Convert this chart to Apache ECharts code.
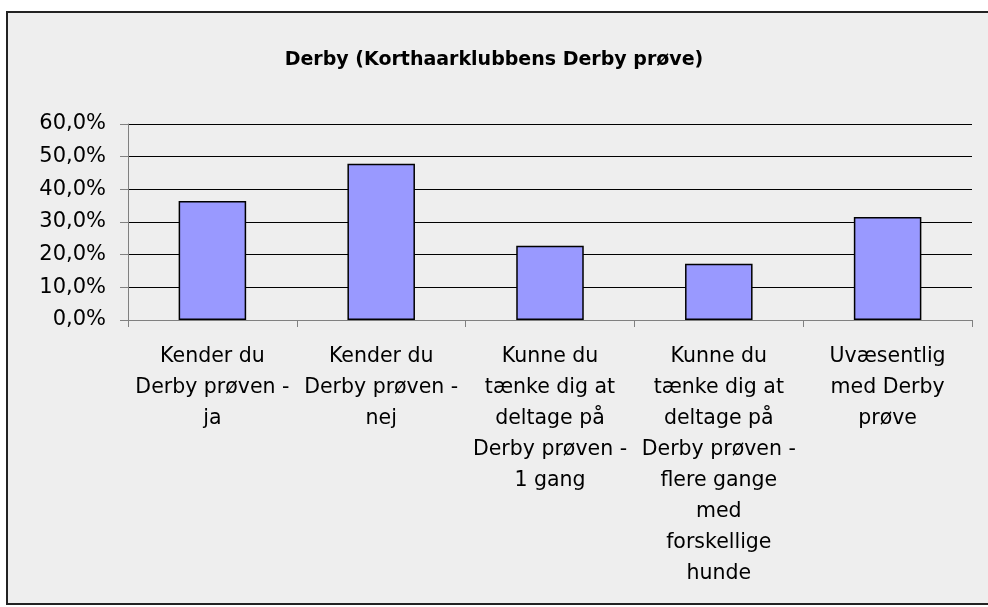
<!DOCTYPE html>
<html>
<head>
<meta charset="utf-8">
<script src="https://cdn.jsdelivr.net/npm/echarts@6/dist/echarts.min.js"></script>
<style>
  html, body { margin: 0; padding: 0; background: #ffffff; }
  #chart { width: 988px; height: 607px; }
</style>
</head>
<body>
<div id="chart"></div>
<script>
// categories (line breaks as in the original chart)
const categories = [
  "Kender du\nDerby prøven -\nja",
  "Kender du\nDerby prøven -\nnej",
  "Kunne du\ntænke dig at\ndeltage på\nDerby prøven -\n1 gang",
  "Kunne du\ntænke dig at\ndeltage på\nDerby prøven -\nflere gange\nmed\nforskellige\nhunde",
  "Uvæsentlig\nmed Derby\nprøve"
];
// percent values
const values = [36.4, 47.8, 22.7, 17.2, 31.5];
const titleText = "Derby (Korthaarklubbens Derby prøve)";

const font = "'DejaVu Sans', Arial, sans-serif";

const chart = echarts.init(document.getElementById('chart'));

const option = {
  backgroundColor: '#ffffff',
  animation: false,
  graphic: [{
    type: 'rect',
    z: -10,
    shape: { x: 7, y: 12, width: 990, height: 592 },
    style: { fill: '#eeeeee', stroke: '#222222', lineWidth: 2 }
  }],
  title: {
    text: titleText,
    left: 'center',
    top: 46,
    textStyle: {
      color: '#000000',
      fontFamily: font,
      fontSize: 19,
      fontWeight: 'bold'
    }
  },
  grid: {
    left: 128,
    right: 16,
    top: 124,
    bottom: 287
  },
  xAxis: {
    type: 'category',
    data: categories,
    axisLine: { lineStyle: { color: '#808080', width: 1 } },
    axisTick: { show: true, length: 7, lineStyle: { color: '#808080' } },
    axisLabel: {
      interval: 0,
      margin: 21,
      color: '#000000',
      fontFamily: font,
      fontSize: 20.5,
      lineHeight: 31,
      align: 'center'
    }
  },
  yAxis: {
    type: 'value',
    min: 0,
    max: 60,
    interval: 10,
    axisLine: { show: true, lineStyle: { color: '#808080', width: 1 } },
    axisTick: { show: true, length: 8, lineStyle: { color: '#808080' } },
    axisLabel: {
      margin: 22,
      color: '#000000',
      fontFamily: font,
      fontSize: 21,
      formatter: v => v.toFixed(1).replace('.', ',') + '%'
    },
    splitLine: { show: true, lineStyle: { color: '#000000', width: 1 } }
  },
  series: [{
    type: 'bar',
    data: values,
    barWidth: '40%',
    itemStyle: {
      color: '#9999ff',
      borderColor: '#000000',
      borderWidth: 1.5
    }
  }]
};

chart.setOption(option);
</script>
</body>
</html>
